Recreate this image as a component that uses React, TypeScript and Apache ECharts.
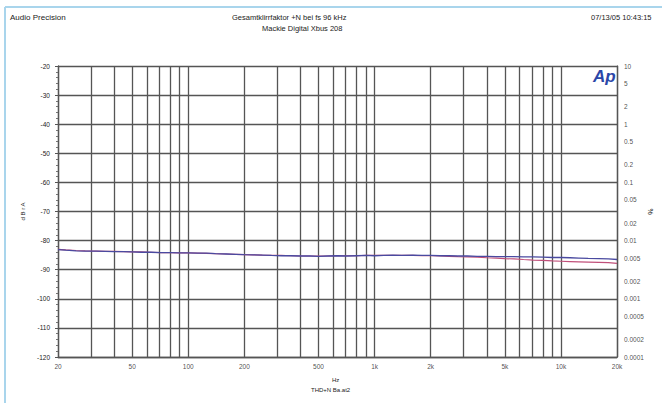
import React, { useEffect, useRef } from "react";
import * as echarts from "echarts";

const freqs = [20, 22, 25, 28, 32, 36, 40, 45, 50, 56, 63, 71, 80, 90, 100, 112, 125, 140, 160, 180, 200, 224, 250, 280, 315, 355, 400, 450, 500, 560, 630, 710, 800, 900, 1000, 1120, 1250, 1400, 1600, 1800, 2000, 2240, 2500, 2800, 3150, 3550, 4000, 4500, 5000, 5600, 6300, 7100, 8000, 9000, 10000, 11200, 12500, 14000, 16000, 18000, 20000];

const blueDb = [-83.1, -83.3, -83.5, -83.6, -83.6, -83.7, -83.8, -83.8, -83.9, -84.0, -84.0, -84.1, -84.1, -84.2, -84.2, -84.3, -84.3, -84.5, -84.6, -84.7, -84.8, -84.9, -85.0, -85.1, -85.2, -85.2, -85.3, -85.3, -85.4, -85.3, -85.2, -85.3, -85.2, -85.1, -85.2, -85.1, -85.0, -85.1, -85.0, -85.1, -85.1, -85.2, -85.2, -85.3, -85.3, -85.4, -85.4, -85.5, -85.5, -85.5, -85.6, -85.6, -85.7, -85.8, -85.8, -85.9, -86.0, -86.1, -86.2, -86.3, -86.5];

const redDb = [-83.0, -83.2, -83.4, -83.5, -83.6, -83.7, -83.7, -83.8, -83.9, -83.9, -84.0, -84.1, -84.1, -84.2, -84.2, -84.3, -84.4, -84.5, -84.6, -84.7, -84.8, -84.9, -85.0, -85.1, -85.1, -85.2, -85.3, -85.3, -85.3, -85.3, -85.2, -85.2, -85.2, -85.1, -85.1, -85.1, -85.1, -85.1, -85.1, -85.2, -85.2, -85.3, -85.4, -85.5, -85.6, -85.7, -85.9, -86.0, -86.2, -86.3, -86.5, -86.7, -86.8, -87.0, -87.1, -87.2, -87.3, -87.4, -87.5, -87.6, -87.8];

const gridFreqs = [20, 30, 40, 50, 60, 70, 80, 90, 100, 200, 300, 400, 500, 600, 700, 800, 900, 1000, 2000, 3000, 4000, 5000, 6000, 7000, 8000, 9000, 10000, 20000];

const xTickFreqs = [20, 50, 100, 200, 500, 1000, 2000, 5000, 10000, 20000];
const xTickLabels = ["20", "50", "100", "200", "500", "1k", "2k", "5k", "10k", "20k"];

const rightTickPct = [10, 5, 2, 1, 0.5, 0.2, 0.1, 0.05, 0.02, 0.01, 0.005, 0.002, 0.001, 0.0005, 0.0002, 0.0001];
const rightTickLabels = ["10", "5", "2", "1", "0.5", "0.2", "0.1", "0.05", "0.02", "0.01", "0.005", "0.002", "0.001", "0.0005", "0.0002", "0.0001"];

const FONT = "Liberation Sans, Arial, sans-serif";
const TXT = "#222";

export default function App() {
  const ref = useRef<HTMLDivElement>(null);
  useEffect(() => {
    if (!ref.current) return;
    const chart = echarts.init(ref.current, undefined, { renderer: "svg" });
    const gridColor = "#555";
    chart.setOption({
      animation: false,
      backgroundColor: "#ffffff",
      textStyle: { fontFamily: FONT },
      grid: { left: 58, right: 45, top: 66, bottom: 46 },
      xAxis: {
        type: "log",
        logBase: 10,
        min: 20,
        max: 20000,
        axisLine: { show: true, lineStyle: { color: gridColor, width: 1.3 } },
        axisTick: { show: false },
        axisLabel: { show: false },
        splitLine: { show: false },
      },
      yAxis: [
        {
          type: "value",
          min: -120,
          max: -20,
          interval: 10,
          name: "d B r A",
          nameLocation: "middle",
          nameGap: 22,
          nameRotate: 90,
          nameTextStyle: { fontSize: 6, color: TXT },
          axisLine: { show: true, lineStyle: { color: gridColor, width: 1.3 } },
          axisTick: { show: true, length: 3, lineStyle: { color: gridColor } },
          minorTick: { show: true, splitNumber: 5, length: 2, lineStyle: { color: "#777" } },
          axisLabel: { fontSize: 6.5, color: TXT, margin: 8 },
          splitLine: { show: true, lineStyle: { color: gridColor, width: 1.3 } },
        },
        {
          type: "log",
          logBase: 10,
          min: 0.0001,
          max: 10,
          position: "right",
          name: "%",
          nameLocation: "middle",
          nameGap: 30,
          nameRotate: -90,
          nameTextStyle: { fontSize: 7, color: TXT },
          axisLine: { show: true, lineStyle: { color: gridColor, width: 1.3 } },
          axisTick: { show: false },
          axisLabel: { show: false },
          splitLine: { show: false },
        },
      ],
      series: [
        {
          type: "line",
          data: [],
          silent: true,
          markLine: {
            silent: true,
            symbol: "none",
            label: { show: false },
            lineStyle: { color: gridColor, width: 1.3, type: "solid" },
            data: gridFreqs.map((f) => ({ xAxis: f })),
          },
        },
        {
          type: "line",
          name: "red",
          data: freqs.map((f, i) => [f, redDb[i]]),
          showSymbol: false,
          lineStyle: { color: "#c0507a", width: 1.2 },
          z: 5,
        },
        {
          type: "line",
          name: "blue",
          data: freqs.map((f, i) => [f, blueDb[i]]),
          showSymbol: false,
          lineStyle: { color: "#4a4aa0", width: 1.3 },
          z: 6,
        },
        {
          type: "scatter",
          symbolSize: 0,
          clip: false,
          silent: true,
          data: xTickFreqs.map((f, i) => ({ value: [f, -120], name: xTickLabels[i] })),
          label: {
            show: true,
            position: "bottom",
            distance: 6,
            fontSize: 6.5,
            color: TXT,
            formatter: (p: any) => p.name,
          },
        },
        {
          type: "scatter",
          yAxisIndex: 1,
          symbolSize: 0,
          clip: false,
          silent: true,
          data: rightTickPct.map((v, i) => ({ value: [20000, v], name: rightTickLabels[i] })),
          label: {
            show: true,
            position: "right",
            distance: 7,
            fontSize: 6.5,
            color: TXT,
            formatter: (p: any) => p.name,
          },
        },
      ],
      graphic: [
        { type: "line", shape: { x1: 5, y1: 7, x2: 662, y2: 7 }, style: { stroke: "#a9d5ec", lineWidth: 2 } },
        { type: "line", shape: { x1: 5, y1: 7, x2: 5, y2: 403 }, style: { stroke: "#a9d5ec", lineWidth: 2 } },
        { type: "text", left: 10, top: 13, style: { text: "Audio Precision", fontSize: 8, fill: TXT, fontFamily: FONT } },
        { type: "text", left: 232, top: 13, style: { text: "Gesamtklirrfaktor +N bei fs 96 kHz", fontSize: 7.5, fill: TXT, fontFamily: FONT } },
        { type: "text", left: 262, top: 24, style: { text: "Mackie Digital Xbus 208", fontSize: 7.5, fill: TXT, fontFamily: FONT } },
        { type: "text", left: 591, top: 13, style: { text: "07/13/05 10:43:15", fontSize: 7.5, fill: TXT, fontFamily: FONT } },
        { type: "text", left: 332, top: 377, style: { text: "Hz", fontSize: 6, fill: TXT, fontFamily: FONT } },
        { type: "text", left: 311, top: 387, style: { text: "THD+N Ba.at2", fontSize: 6, fill: TXT, fontFamily: FONT } },
        { type: "text", left: 593, top: 68, style: { text: "Ap", fontSize: 17, fontWeight: "bold", fontStyle: "italic", fill: "#2b47a8", fontFamily: FONT } },
      ],
    });
    return () => chart.dispose();
  }, []);
  return <div ref={ref} style={{ position: "fixed", left: 0, top: 0, width: 662, height: 403 }} />;
}
